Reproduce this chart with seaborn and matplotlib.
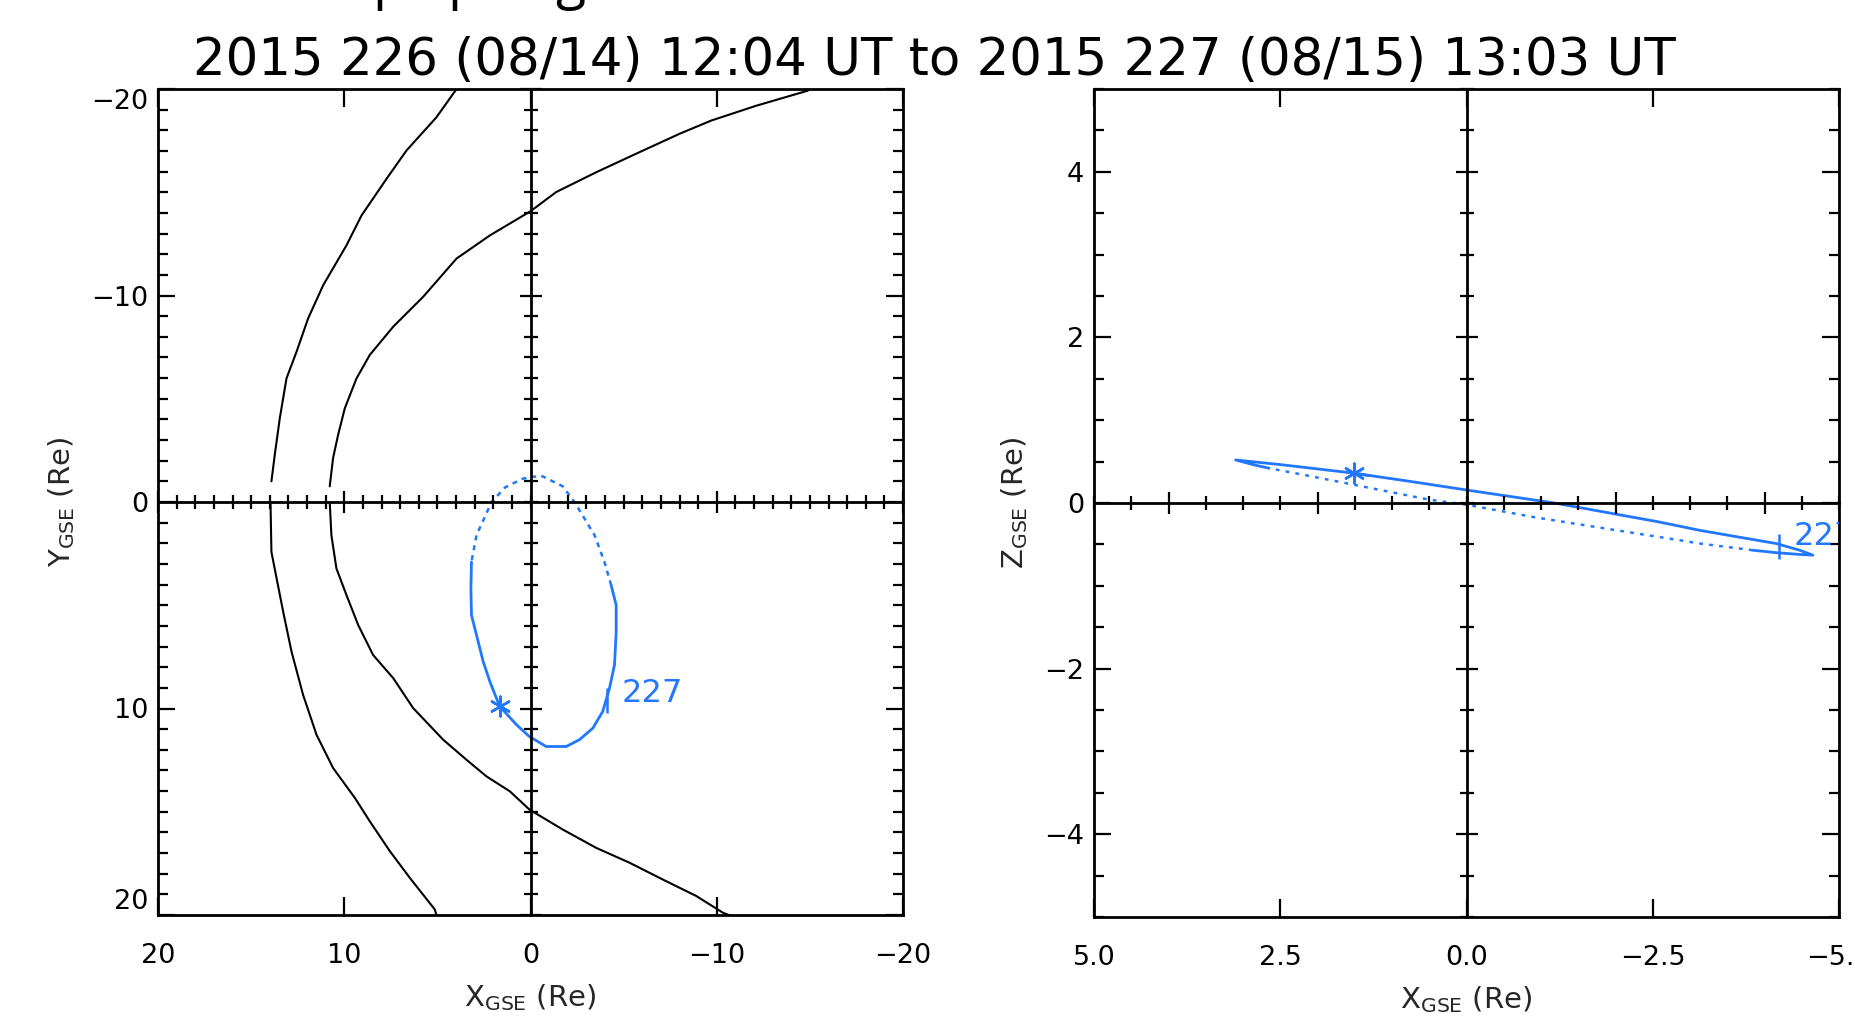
import matplotlib
matplotlib.use("Agg")
import matplotlib.pyplot as plt
import seaborn as sns
from matplotlib.ticker import FixedLocator, MultipleLocator, NullLocator

# ------------------------------------------------------------------ data
title_text = "2015 226 (08/14) 12:04 UT to 2015 227 (08/15) 13:03 UT"
header_fragments = ["p", "p", "g"]          # descenders of a clipped heading
header_fragment_px = [372, 447, 555]

# left panel (X-Y GSE): bow shock and magnetopause model curves
bow_upper_x = [3.97, 5.05, 6.66, 7.73, 9.07, 9.88, 11.13, 11.94, 12.56, 13.10, 13.46, 13.73, 13.91]
bow_upper_y = [-20.0, -18.63, -17.02, -15.65, -13.88, -12.43, -10.50, -8.89, -7.28, -5.99, -4.06, -2.29, -1.0]
bow_lower_x = [13.96, 13.91, 13.28, 12.83, 12.21, 11.49, 10.60, 9.43, 8.63, 7.55, 6.48, 5.14, 5.05]
bow_lower_y = [0.0, 2.42, 5.31, 7.25, 9.34, 11.27, 12.88, 14.33, 15.46, 16.91, 18.20, 19.73, 20.0]
mp_upper_x = [-14.89, -12.12, -9.70, -8.00, -5.85, -3.53, -1.38, 0.0, 2.18, 3.97, 5.76, 7.37, 8.63, 9.34, 9.97, 10.33, 10.60, 10.78]
mp_upper_y = [-19.92, -19.19, -18.47, -17.83, -16.94, -15.97, -15.01, -14.08, -12.91, -11.79, -9.94, -8.49, -7.12, -5.99, -4.54, -3.25, -2.13, -0.76]
mp_lower_x = [10.78, 10.69, 10.42, 9.88, 9.25, 8.45, 7.37, 6.30, 4.69, 3.44, 2.36, 1.11, 0.05, -1.73, -3.53, -5.32, -7.10, -8.90, -10.33, -10.80]
mp_lower_y = [0.0, 1.61, 3.22, 4.51, 5.96, 7.41, 8.53, 9.98, 11.51, 12.48, 13.29, 14.01, 14.90, 15.86, 16.75, 17.47, 18.28, 19.08, 19.89, 20.05]

# spacecraft orbit, X-Y projection (time order: solid, dotted, solid)
orb_xy_a_x = [1.65, 0.75, 0.07, -0.84, -1.92, -2.63, -3.35, -3.88, -4.24, -4.51, -4.60, -4.60, -4.33]
orb_xy_a_y = [9.90, 10.79, 11.35, 11.84, 11.84, 11.51, 10.95, 10.14, 9.02, 7.89, 6.30, 4.99, 4.03]
orb_xy_b_x = [-4.33, -3.97, -3.44, -2.36, -1.73, -0.66, 0.0, 0.47, 1.36, 2.09, 2.90, 3.17]
orb_xy_b_y = [4.03, 2.90, 1.61, 0.0, -0.76, -1.24, -1.22, -1.11, -0.71, 0.0, 1.61, 2.90]
orb_xy_c_x = [3.17, 3.20, 3.17, 2.90, 2.54, 2.18, 1.83, 1.65, 1.35]
orb_xy_c_y = [2.90, 4.20, 5.48, 6.44, 7.73, 8.70, 9.50, 9.90, 10.15]

# spacecraft orbit, X-Z projection
orb_xz_a_x = [1.51, 0.75, 0.0, -1.18, -2.59, -3.13, -4.16, -4.47, -4.65, -4.45, -4.16, -3.84]
orb_xz_a_z = [0.36, 0.26, 0.157, 0.0, -0.23, -0.33, -0.49, -0.57, -0.63, -0.62, -0.60, -0.57]
orb_xz_b_x = [-3.84, -3.14, -2.02, -0.90, 0.0, 0.50, 1.06, 1.62, 2.30, 2.65]
orb_xz_b_z = [-0.57, -0.49, -0.33, -0.17, -0.02, 0.04, 0.14, 0.24, 0.36, 0.42]
orb_xz_c_x = [2.65, 2.85, 3.10, 2.46, 1.51, 1.30]
orb_xz_c_z = [0.42, 0.46, 0.52, 0.46, 0.36, 0.33]

# start marker and day tick
start_xy = (1.65, 9.90)
start_xz = (1.51, 0.36)
day_label = "227"
day_tick_xy = (-4.13, 9.60)
day_tick_xz = (-4.19, -0.52)

# axes ticks
left_xticks = [20, 10, 0, -10, -20]
left_xticklabels = ["20", "10", "0", "\u221210", "\u221220"]
left_yticks = [-20, -10, 0, 10, 20]
left_yticklabels = ["\u221220", "\u221210", "0", "10", "20"]
right_xticks = [5.0, 2.5, 0.0, -2.5, -5.0]
right_xticklabels = ["5.0", "2.5", "0.0", "\u22122.5", "\u22125.0"]
right_yticks = [-4, -2, 0, 2, 4]
right_yticklabels = ["\u22124", "\u22122", "0", "2", "4"]

# ------------------------------------------------------------------ style
sns.set_style("ticks")
plt.rcParams["font.family"] = ["DejaVu Sans"]
plt.rcParams["mathtext.fontset"] = "dejavusans"

BLUE = "#2277ff"
W, H = 1855, 1024
fig = plt.figure(figsize=(W / 100, H / 100), dpi=100)
fig.patch.set_facecolor("white")


def px_rect(left, top, right, bottom):
    return [left / W, 1 - bottom / H, (right - left) / W, (bottom - top) / H]


def sline(ax, xs, ys, color, lw, ls="-"):
    sns.lineplot(x=xs, y=ys, ax=ax, sort=False, estimator=None, errorbar=None,
                 color=color, linewidth=lw, linestyle=ls)


def style_box(ax, xlim, ylim, xt, xtl, yt, ytl, ystep):
    ax.set_xlim(*xlim)
    ax.set_ylim(*ylim)
    ax.set_facecolor("white")
    ax.grid(False)
    for s in ax.spines.values():
        s.set_visible(True)
        s.set_linewidth(2.0)
        s.set_color("black")
    ax.set_xticks(xt)
    ax.set_xticklabels(xtl)
    ax.set_yticks(yt)
    ax.set_yticklabels(ytl)
    ax.xaxis.set_minor_locator(NullLocator())
    ax.yaxis.set_minor_locator(MultipleLocator(ystep))
    ax.tick_params(axis="both", which="both", direction="in", top=True, right=True,
                   bottom=True, left=True, color="black", width=1.6,
                   labelsize=19.5, labelcolor="black")
    ax.tick_params(axis="x", which="major", length=13, pad=20)
    ax.tick_params(axis="y", which="major", length=12, pad=7)
    ax.tick_params(axis="y", which="minor", length=7)


def add_center(ax, xmaj, xstep, ymaj, ystep):
    c = fig.add_axes(ax.get_position().bounds, facecolor="none", zorder=2)
    c.patch.set_visible(False)
    c.grid(False)
    c.set_xlim(ax.get_xlim())
    c.set_ylim(ax.get_ylim())
    c.spines["left"].set_position(("data", 0))
    c.spines["bottom"].set_position(("data", 0))
    c.spines["top"].set_visible(False)
    c.spines["right"].set_visible(False)
    for k in ("left", "bottom"):
        c.spines[k].set_linewidth(2.0)
        c.spines[k].set_color("black")
    c.xaxis.set_major_locator(FixedLocator(xmaj))
    c.xaxis.set_minor_locator(MultipleLocator(xstep))
    c.yaxis.set_major_locator(FixedLocator(ymaj))
    c.yaxis.set_minor_locator(MultipleLocator(ystep))
    c.tick_params(which="both", direction="inout", labelleft=False, labelbottom=False,
                  top=False, right=False, left=True, bottom=True, width=1.6, color="black")
    c.tick_params(which="major", length=16)
    c.tick_params(which="minor", length=10)
    return c


# ------------------------------------------------------------------ left panel
axL = fig.add_axes(px_rect(158, 89, 903, 915), zorder=1)
for xs, ys in [(bow_upper_x, bow_upper_y), (bow_lower_x, bow_lower_y),
               (mp_upper_x, mp_upper_y), (mp_lower_x, mp_lower_y)]:
    sline(axL, xs, ys, "black", 1.5)
sline(axL, orb_xy_a_x, orb_xy_a_y, BLUE, 2.0)
sline(axL, orb_xy_b_x, orb_xy_b_y, BLUE, 1.8, (0, (2, 2)))
sline(axL, orb_xy_c_x, orb_xy_c_y, BLUE, 2.0)
sns.scatterplot(x=[start_xy[0]], y=[start_xy[1]], ax=axL, marker=(6, 2, 0), s=200,
                color=BLUE, edgecolor=BLUE, linewidth=1.8, zorder=4)
sns.scatterplot(x=[day_tick_xy[0]], y=[day_tick_xy[1]], ax=axL, marker="|", s=324,
                color=BLUE, edgecolor=BLUE, linewidth=1.8, zorder=4)
t = axL.annotate(day_label, xy=day_tick_xy, xytext=(10, 5), textcoords="offset points",
                 color=BLUE, fontsize=23, ha="left", va="center", annotation_clip=False)
t.set_clip_path(axL.patch)
style_box(axL, (20, -20), (20, -20), left_xticks, left_xticklabels,
          left_yticks, left_yticklabels, 1)
axL.set_xlabel(r"X$_{\rm GSE}$ (Re)", fontsize=21, labelpad=10)
axL.set_ylabel(r"Y$_{\rm GSE}$ (Re)", fontsize=21, labelpad=10)
ylabs = axL.get_yticklabels()
ylabs[0].set_verticalalignment("top")
ylabs[-1].set_verticalalignment("bottom")
add_center(axL, [-20, -10, 10, 20], 1, [-20, -10, 10, 20], 1)

# ------------------------------------------------------------------ right panel
axR = fig.add_axes(px_rect(1094, 89, 1839, 917), zorder=1)
sline(axR, orb_xz_a_x, orb_xz_a_z, BLUE, 2.0)
sline(axR, orb_xz_b_x, orb_xz_b_z, BLUE, 1.8, (0, (1.5, 2.5)))
sline(axR, orb_xz_c_x, orb_xz_c_z, BLUE, 2.0)
sns.scatterplot(x=[start_xz[0]], y=[start_xz[1]], ax=axR, marker=(6, 2, 0), s=200,
                color=BLUE, edgecolor=BLUE, linewidth=1.8, zorder=4)
sns.scatterplot(x=[day_tick_xz[0]], y=[day_tick_xz[1]], ax=axR, marker="|", s=324,
                color=BLUE, edgecolor=BLUE, linewidth=1.8, zorder=4)
t2 = axR.annotate(day_label, xy=day_tick_xz, xytext=(11, 7), textcoords="offset points",
                  color=BLUE, fontsize=23, ha="left", va="center", annotation_clip=False)
t2.set_clip_path(axR.patch)
style_box(axR, (5, -5), (-5, 5), right_xticks, right_xticklabels,
          right_yticks, right_yticklabels, 0.5)
axR.set_xlabel(r"X$_{\rm GSE}$ (Re)", fontsize=21, labelpad=10)
axR.set_ylabel(r"Z$_{\rm GSE}$ (Re)", fontsize=21, labelpad=10)
add_center(axR, [-4, -2, 2, 4], 0.5, [-4, -2, 2, 4], 0.5)

# ------------------------------------------------------------------ texts
fig.text(934 / W, 1 - 75 / H, title_text, ha="center", va="baseline", fontsize=37,
         color="black")
for frag, xp in zip(header_fragments, header_fragment_px):
    fig.text(xp / W, 1 + 3 / H, frag, ha="left", va="baseline", fontsize=40,
             family=["Open Sans", "DejaVu Sans"], color="black")

fig.savefig("out.png", dpi=100, facecolor="white")
